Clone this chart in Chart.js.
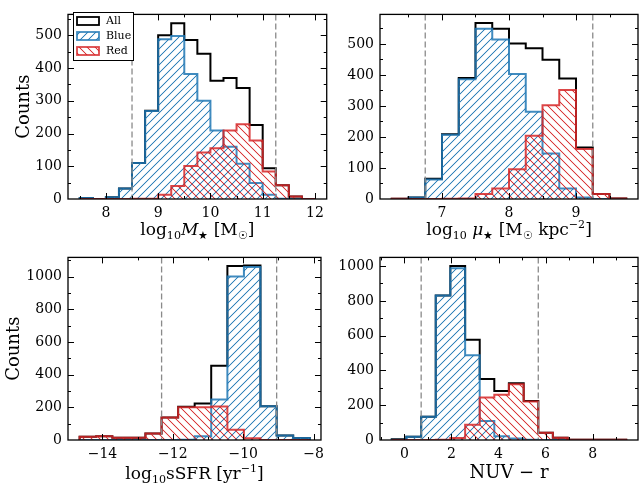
<!DOCTYPE html>
<html>
<head>
<meta charset="utf-8">
<script src="https://cdn.jsdelivr.net/npm/chart.js@4.4.0/dist/chart.umd.min.js"></script>
<style>
  html, body { margin: 0; padding: 0; background: #fff; }
  #wrap { position: relative; width: 640px; height: 486px; overflow: hidden; }
  #wrap canvas { position: absolute; }
</style>
</head>
<body>
<div id="wrap">
  <canvas id="massChart" width="330" height="243" style="left:0px;top:0px"></canvas>
  <canvas id="muChart" width="310" height="243" style="left:330px;top:0px"></canvas>
  <canvas id="ssfrChart" width="330" height="243" style="left:0px;top:243px"></canvas>
  <canvas id="nuvChart" width="310" height="243" style="left:330px;top:243px"></canvas>
</div>
<script>
// --- data: bin edges and counts ---
const massEdges = [7.5, 7.75, 8.0, 8.25, 8.5, 8.75, 9.0, 9.25, 9.5, 9.75, 10.0, 10.25, 10.5, 10.75, 11.0, 11.25, 11.5, 11.75, 12.0];
const massAll  = [3, 0, 5, 32, 110, 270, 500, 537, 486, 444, 361, 370, 339, 226, 94, 42, 8, 0];
const massBlue = [3, 0, 5, 32, 110, 269, 488, 498, 382, 300, 209, 160, 108, 49, 13, 1, 0, 0];
const massRed  = [0, 0, 0, 0, 1, 1, 13, 40, 101, 142, 155, 209, 228, 179, 84, 42, 8, 0];
const massCuts = [8.5, 11.25];
const massTicksX = [8, 9, 10, 11, 12];
const massTicksY = [0, 100, 200, 300, 400, 500];

const muEdges = [6.25, 6.5, 6.75, 7.0, 7.25, 7.5, 7.75, 8.0, 8.25, 8.5, 8.75, 9.0, 9.25, 9.5, 9.75];
const muAll  = [1, 5, 65, 209, 390, 567, 549, 501, 486, 449, 388, 166, 16, 2];
const muBlue = [0, 5, 63, 207, 386, 549, 514, 403, 281, 147, 34, 5, 0, 0];
const muRed  = [1, 0, 0, 1, 2, 16, 34, 96, 204, 302, 351, 161, 16, 2];
const muCuts = [6.75, 9.25];
const muTicksX = [7, 8, 9];
const muTicksY = [0, 100, 200, 300, 400, 500];

const ssfrEdges = [-14.65, -14.18, -13.72, -13.25, -12.78, -12.32, -11.85, -11.38, -10.91, -10.45, -9.98, -9.51, -9.05, -8.58, -8.11];
const ssfrAll  = [20, 23, 14, 14, 40, 137, 203, 223, 454, 1064, 1067, 207, 27, 12];
const ssfrBlue = [0, 0, 0, 0, 0, 0, 2, 23, 248, 1000, 1058, 207, 27, 12];
const ssfrRed  = [20, 23, 14, 14, 40, 137, 201, 200, 205, 63, 10, 0, 0, 0];
const ssfrCuts = [-12.32, -9.05];
const ssfrTicksX = [-14, -12, -10, -8];
const ssfrTicksY = [0, 200, 400, 600, 800, 1000];

const nuvEdges = [-0.54, 0.08, 0.71, 1.33, 1.95, 2.58, 3.20, 3.82, 4.44, 5.07, 5.69, 6.31, 6.94, 7.56, 8.18, 8.81, 9.43];
const nuvAll  = [4, 18, 133, 831, 1000, 576, 351, 282, 327, 224, 42, 13, 1, 2, 2, 1];
const nuvBlue = [2, 18, 133, 831, 988, 488, 109, 22, 8, 2, 0, 0, 0, 0, 0, 0];
const nuvRed  = [0, 0, 0, 2, 12, 88, 245, 260, 320, 222, 42, 13, 1, 2, 2, 1];
const nuvCuts = [0.71, 5.69];
const nuvTicksX = [0, 2, 4, 6, 8];
const nuvTicksY = [0, 200, 400, 600, 800, 1000];
// ---

const FONT = "'DejaVu Serif', 'Liberation Serif', serif";
const BLUE_RGB = [31, 119, 180];
const RED_RGB = [214, 39, 40];
const BLUE_LINE = 'rgba(31,119,180,0.85)';
const RED_LINE = 'rgba(214,39,40,0.85)';

// hatch tile ('/' or '\\') built pixel by pixel, 8px spacing
function hatchTile(rgb, dir) {
    const s = 8;
    const c = document.createElement('canvas');
    c.width = s; c.height = s;
    const g = c.getContext('2d');
    const img = g.createImageData(s, s);
    for (let yy = 0; yy < s; yy++) {
        for (let xx = 0; xx < s; xx++) {
            const d = dir === '/' ? (xx + yy + 1) % s : (xx - yy + s) % s;
            const a = d === 0 ? 235 : (d === 1 || d === s - 1) ? 45 : 0;
            const i = (yy * s + xx) * 4;
            img.data[i] = rgb[0]; img.data[i + 1] = rgb[1]; img.data[i + 2] = rgb[2]; img.data[i + 3] = a;
        }
    }
    g.putImageData(img, 0, 0);
    return c;
}
const blueTile = hatchTile(BLUE_RGB, '/');
const redTile = hatchTile(RED_RGB, '\\');

// outline of a step histogram (histtype='step')
function stepPoints(edges, counts) {
    const pts = [{ x: edges[0], y: 0 }];
    counts.forEach((c, i) => {
        pts.push({ x: edges[i], y: c });
        pts.push({ x: edges[i + 1], y: c });
    });
    pts.push({ x: edges[edges.length - 1], y: 0 });
    return pts;
}

function histSet(label, edges, counts, color, pattern, order) {
    return {
        label: label,
        data: stepPoints(edges, counts),
        borderColor: color,
        borderWidth: 2,
        backgroundColor: pattern || 'rgba(0,0,0,0)',
        fill: pattern ? 'origin' : false,
        pointRadius: 0,
        tension: 0,
        order: order
    };
}

function fmtNum(v) {
    return v < 0 ? '\u2212' + Math.abs(v) : String(v);
}

// text with sub/superscripts, drawn centred on cx
function drawRich(ctx, parts, cx, y, size) {
    const fontOf = p => (p.it ? 'italic ' : '') + ((p.sub || p.sup) ? size * 0.65 : size) + 'px ' + FONT;
    let total = 0;
    parts.forEach(p => { ctx.font = fontOf(p); p.w = ctx.measureText(p.t).width; total += p.w; });
    let x = cx - total / 2;
    ctx.textAlign = 'left';
    ctx.textBaseline = 'alphabetic';
    parts.forEach(p => {
        ctx.font = fontOf(p);
        const dy = p.sub ? size * 0.24 : (p.sup ? -size * 0.4 : 0);
        ctx.fillText(p.t, x, y + dy);
        x += p.w;
    });
}

function makePanel(id, cfg) {
    const canvas = document.getElementById(id);
    const W = canvas.width, H = canvas.height;
    const A = cfg.area; // chart area inside this canvas: [left, top, right, bottom]
    // patterns made on this canvas's own context
    const c2d = canvas.getContext('2d');
    const bluePat = c2d.createPattern(blueTile, 'repeat');
    const redPat = c2d.createPattern(redTile, 'repeat');

    const decor = {
        id: 'decor_' + id,
        afterDatasetsDraw(chart) {
            const { ctx, chartArea: a, scales: { x } } = chart;
            ctx.save();
            ctx.strokeStyle = '#8a8a8a';
            ctx.lineWidth = 1.3;
            ctx.setLineDash([6, 3]);
            cfg.cuts.forEach(v => {
                const px = x.getPixelForValue(v);
                ctx.beginPath();
                ctx.moveTo(px, a.top);
                ctx.lineTo(px, a.bottom);
                ctx.stroke();
            });
            ctx.restore();
        },
        afterDraw(chart) {
            const { ctx, chartArea: a, scales: { x, y } } = chart;
            ctx.save();
            ctx.strokeStyle = '#000';
            ctx.lineWidth = 1;
            const seg = (x1, y1, x2, y2) => { ctx.beginPath(); ctx.moveTo(x1, y1); ctx.lineTo(x2, y2); ctx.stroke(); };
            const tickX = (v, len) => {
                const px = Math.round(x.getPixelForValue(v)) + 0.5;
                if (px < a.left || px > a.right) return;
                seg(px, a.bottom, px, a.bottom - len);
                seg(px, a.top, px, a.top + len);
            };
            const tickY = (v, len) => {
                const py = Math.round(y.getPixelForValue(v)) + 0.5;
                if (py < a.top || py > a.bottom) return;
                seg(a.left, py, a.left + len, py);
                seg(a.right, py, a.right - len, py);
            };
            // minor ticks
            for (let v = Math.ceil(x.min / cfg.minorX) * cfg.minorX; v <= x.max; v += cfg.minorX) tickX(v, 3);
            for (let v = 0; v <= y.max; v += cfg.minorY) tickY(v, 3);
            // major ticks
            cfg.ticksX.forEach(v => tickX(v, 6));
            cfg.ticksY.forEach(v => tickY(v, 6));
            // spines
            ctx.lineWidth = 1.3;
            ctx.strokeRect(a.left, a.top, a.right - a.left, a.bottom - a.top);

            // axis titles
            ctx.fillStyle = '#000';
            drawRich(ctx, cfg.xTitle, (a.left + a.right) / 2, cfg.xTitleY, cfg.xTitleSize || 17);
            if (cfg.yTitle) {
                ctx.save();
                ctx.translate(cfg.yTitleX, (a.top + a.bottom) / 2);
                ctx.rotate(-Math.PI / 2);
                ctx.font = '18px ' + FONT;
                ctx.textAlign = 'center';
                ctx.textBaseline = 'middle';
                ctx.fillText(cfg.yTitle, 0, 0);
                ctx.restore();
            }

            // legend
            if (cfg.legend) {
                const L = cfg.legend;
                ctx.fillStyle = '#fff';
                ctx.fillRect(L.x, L.y, L.w, L.h);
                ctx.strokeStyle = '#000';
                ctx.lineWidth = 1;
                ctx.strokeRect(L.x + 0.5, L.y + 0.5, L.w, L.h);
                chart.data.datasets.slice().sort((p, q) => q.order - p.order).forEach((ds, i) => {
                    const by = L.y + 5 + i * 15;
                    ctx.fillStyle = ds.fill ? ds.backgroundColor : '#fff';
                    ctx.fillRect(L.x + 4, by, 22, 8);
                    ctx.strokeStyle = ds.borderColor;
                    ctx.lineWidth = 1.8;
                    ctx.strokeRect(L.x + 4, by, 22, 8);
                    ctx.fillStyle = '#000';
                    ctx.font = '11px ' + FONT;
                    ctx.textAlign = 'left';
                    ctx.textBaseline = 'middle';
                    ctx.fillText(ds.label, L.x + 33, by + 4.5);
                });
            }
            ctx.restore();
        }
    };

    const tickFont = { family: FONT, size: 14 };
    return new Chart(canvas, {
        type: 'line',
        data: {
            datasets: [
                histSet('All', cfg.edges, cfg.all, '#000', null, 3),
                histSet('Blue', cfg.edges, cfg.blue, BLUE_LINE, bluePat, 2),
                histSet('Red', cfg.edges, cfg.red, RED_LINE, redPat, 1)
            ]
        },
        options: {
            responsive: false,
            animation: false,
            devicePixelRatio: 1,
            layout: { padding: { left: 0, top: A[1], right: W - A[2], bottom: 0 } },
            plugins: { legend: { display: false }, tooltip: { enabled: false } },
            scales: {
                x: {
                    type: 'linear',
                    min: cfg.xRange[0],
                    max: cfg.xRange[1],
                    afterBuildTicks: s => { s.ticks = cfg.ticksX.map(v => ({ value: v })); },
                    afterFit: s => { s.height = H - A[3]; },
                    grid: { display: false, drawTicks: false },
                    border: { display: false },
                    ticks: { font: tickFont, color: '#000', padding: 6, autoSkip: false, maxRotation: 0, callback: v => fmtNum(v) }
                },
                y: {
                    type: 'linear',
                    min: 0,
                    max: cfg.yMax,
                    afterBuildTicks: s => { s.ticks = cfg.ticksY.map(v => ({ value: v })); },
                    afterFit: s => { s.width = A[0]; },
                    grid: { display: false, drawTicks: false },
                    border: { display: false },
                    ticks: { font: tickFont, color: '#000', padding: 6, autoSkip: false, callback: v => fmtNum(v) }
                }
            }
        },
        plugins: [decor]
    });
}

makePanel('massChart', {
    area: [68, 7, 327, 199],
    edges: massEdges, all: massAll, blue: massBlue, red: massRed,
    cuts: massCuts, ticksX: massTicksX, ticksY: massTicksY,
    xRange: [7.275, 12.225], yMax: 564, minorX: 0.5, minorY: 50,
    xTitle: [{ t: 'log' }, { t: '10', sub: true }, { t: 'M', it: true }, { t: '\u2605', sub: true }, { t: ' [M' }, { t: '\u2609', sub: true }, { t: ']' }],
    xTitleY: 235, yTitle: 'Counts', yTitleX: 24,
    legend: { x: 73, y: 12, w: 60, h: 48 }
});

makePanel('muChart', {
    area: [50, 7, 308, 199],
    edges: muEdges, all: muAll, blue: muBlue, red: muRed,
    cuts: muCuts, ticksX: muTicksX, ticksY: muTicksY,
    xRange: [6.075, 9.925], yMax: 595, minorX: 0.5, minorY: 50,
    xTitle: [{ t: 'log' }, { t: '10', sub: true }, { t: ' ' }, { t: '\u03bc', it: true }, { t: '\u2605', sub: true }, { t: ' [M' }, { t: '\u2609', sub: true }, { t: ' kpc' }, { t: '\u22122', sup: true }, { t: ']' }],
    xTitleY: 235
});

makePanel('ssfrChart', {
    area: [68, 5, 327, 197],
    edges: ssfrEdges, all: ssfrAll, blue: ssfrBlue, red: ssfrRed,
    cuts: ssfrCuts, ticksX: ssfrTicksX, ticksY: ssfrTicksY,
    xRange: [-14.98, -7.79], yMax: 1117, minorX: 1, minorY: 100,
    xTitle: [{ t: 'log' }, { t: '10', sub: true }, { t: 'sSFR [yr' }, { t: '\u22121', sup: true }, { t: ']' }],
    xTitleY: 236, yTitle: 'Counts', yTitleX: 14
});

makePanel('nuvChart', {
    area: [50, 5, 308, 197],
    edges: nuvEdges, all: nuvAll, blue: nuvBlue, red: nuvRed,
    cuts: nuvCuts, ticksX: nuvTicksX, ticksY: nuvTicksY,
    xRange: [-1.04, 9.93], yMax: 1050, minorX: 1, minorY: 100,
    xTitle: [{ t: 'NUV \u2212 r' }], xTitleSize: 18,
    xTitleY: 235
});
</script>
</body>
</html>
